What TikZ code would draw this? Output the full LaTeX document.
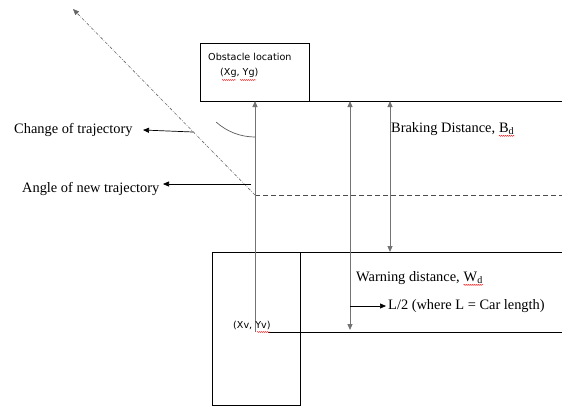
\documentclass[tikz,border=0pt]{standalone}
\usepackage{fontspec}
\setmainfont{Liberation Serif}
\newfontfamily\smallsans{DejaVu Sans}
\usetikzlibrary{arrows.meta,decorations.pathmorphing}
\begin{document}
\begin{tikzpicture}[x=1pt,y=-1pt,
  txt/.style={inner sep=0pt,anchor=west,font=\fontsize{14.4}{16}\selectfont},
  stxt/.style={inner sep=0pt,anchor=west,font=\smallsans\fontsize{9.6}{11}\selectfont},
  blk/.style={draw=black,line width=0.7pt},
  gry/.style={draw=black!55,line width=1pt},
  tip/.style={-{Triangle[length=6pt,width=5pt]}},
  dtip/.style={{Triangle[length=6pt,width=5pt]}-{Triangle[length=6pt,width=5pt]}},
  squig/.style={draw=red,line width=0.4pt,decorate,decoration={snake,amplitude=0.5pt,segment length=2pt}}]
\useasboundingbox (0,0) rectangle (562,405);
% coordinates
\coordinate (obsTL) at (200,43);
\coordinate (obsBR) at (309,101);
\coordinate (topL) at (200,101);
\coordinate (topR) at (562,101);
\coordinate (carTL) at (212,252);
\coordinate (carBR) at (300,405);
\coordinate (warnR) at (562,252);
\coordinate (carLineL) at (268,332);
\coordinate (carLineR) at (562,332);
\coordinate (origin) at (255,195);
\coordinate (dashR) at (562,195);
\coordinate (trajBot) at (255,332);
\coordinate (trajTop) at (255,101);
\coordinate (newTraj) at (73,9);
\coordinate (a1Top) at (350,101);
\coordinate (a1Bot) at (350,330);
\coordinate (a2Top) at (390,101);
\coordinate (a2Bot) at (390,252);
\coordinate (lhS) at (350,306);
\coordinate (lhE) at (386,306);
\coordinate (ctS) at (193,132);
\coordinate (ctE) at (143,130);
\coordinate (anS) at (251,184);
\coordinate (anE) at (163,184);
% boxes and lines
\draw[blk] (obsTL) rectangle (obsBR);
\draw[blk] (topL) -- (topR);
\draw[blk] (carTL) rectangle (carBR);
\draw[blk] (carTL) -- (warnR);
\draw[blk] (carLineL) -- (carLineR);
\draw[draw=black!70,line width=0.8pt,dash pattern=on 5pt off 3pt] (origin) -- (dashR);
% trajectory
\draw[gry,tip] (trajBot) -- (trajTop);
\draw[draw=black!60,line width=0.6pt,dash pattern=on 3pt off 1.5pt on 0.6pt off 1.5pt,tip] (origin) -- (newTraj);
\draw[draw=black!65,line width=0.7pt] (255,137) arc[start angle=90,end angle=132,radius=58];
% dimension arrows
\draw[gry,dtip] (a1Bot) -- (a1Top);
\draw[gry,dtip] (a2Bot) -- (a2Top);
\draw[blk,tip] (lhS) -- (lhE);
% labels
\node[stxt] (obs) at (208,57) {Obstacle location};
\node[stxt] (xg) at (220,73) {(Xg, Yg)};
\draw[squig] (222,80) -- (236,80);
\draw[squig] (240,80) -- (256,80);
\node[stxt] (xv) at (233,325) {(Xv, Yv)};
\draw[squig] (257,332) -- (270,332);
\node[txt] (brake) at (391,129) {Braking Distance,};
\node[txt,anchor=base west,xshift=3.5pt] (bd) at (brake.base east) {B\textsubscript{d}};
\draw[squig] ([yshift=-1pt]bd.south west) -- ([yshift=-1pt]bd.south east);
\node[txt] (warn) at (356,278) {Warning distance,};
\node[txt,anchor=base west,xshift=3.5pt] (wd) at (warn.base east) {W\textsubscript{d}};
\draw[squig] ([yshift=-1pt]wd.south west) -- ([yshift=-1pt]wd.south east);
\node[txt] (lhalf) at (388,306) {L/2 (where L = Car length)};
\node[txt] (chg) at (14,130) {Change of trajectory};
\node[txt] (ang) at (22,189) {Angle of new trajectory};
\draw[blk,tip] (ctS) -- (ctE);
\draw[blk,tip] (anS) -- (anE);
\end{tikzpicture}
\end{document}
